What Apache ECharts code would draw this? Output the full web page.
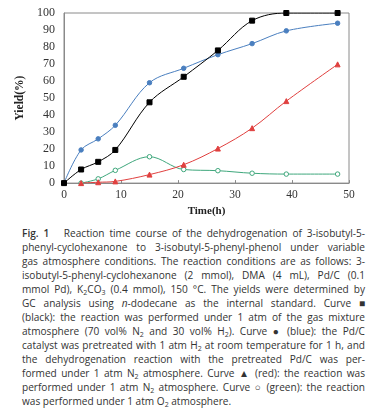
<!DOCTYPE html>
<html><head><meta charset="utf-8">
<script src="https://cdn.jsdelivr.net/npm/echarts@6/dist/echarts.min.js"></script>
<style>
html,body{margin:0;padding:0;background:#fff;width:371px;height:414px;overflow:hidden;}
#chart{position:absolute;left:0;top:0;width:371px;height:222px;}
#cap{position:absolute;left:22px;top:226px;width:343px;font-family:"Open Sans","Noto Sans",sans-serif;font-size:10.1px;line-height:14px;color:#333;}
#cap div{text-align:justify;text-align-last:justify;white-space:nowrap;}
#cap div.last{text-align-last:left;}
#cap sub{font-size:7px;vertical-align:-2px;line-height:0;}
#cap b{font-weight:600;}
</style></head>
<body>
<div id="chart"></div>
<div id="cap">
<div><b>Fig. 1</b>&nbsp;&nbsp; Reaction time course of the dehydrogenation of 3-isobutyl-5-</div>
<div>phenyl-cyclohexanone to 3-isobutyl-5-phenyl-phenol under variable</div>
<div>gas atmosphere conditions. The reaction conditions are as follows: 3-</div>
<div>isobutyl-5-phenyl-cyclohexanone (2 mmol), DMA (4 mL), Pd/C (0.1</div>
<div>mmol Pd), K<sub>2</sub>CO<sub>3</sub> (0.4 mmol), 150 °C. The yields were determined by</div>
<div>GC analysis using <i>n</i>-dodecane as the internal standard. Curve ■</div>
<div>(black): the reaction was performed under 1 atm of the gas mixture</div>
<div>atmosphere (70 vol% N<sub>2</sub> and 30 vol% H<sub>2</sub>). Curve ● (blue): the Pd/C</div>
<div>catalyst was pretreated with 1 atm H<sub>2</sub> at room temperature for 1 h, and</div>
<div>the dehydrogenation reaction with the pretreated Pd/C was per-</div>
<div>formed under 1 atm N<sub>2</sub> atmosphere. Curve ▲ (red): the reaction was</div>
<div>performed under 1 atm N<sub>2</sub> atmosphere. Curve ○ (green): the reaction</div>
<div class="last">was performed under 1 atm O<sub>2</sub> atmosphere.</div>
</div>
<script>
const blackT = [0, 3, 6, 9, 15, 21, 27, 33, 39, 48];
const blackY = [0, 8, 12.5, 19.5, 47.5, 62.5, 78, 95.5, 100, 100];
const blueT = [0, 3, 6, 9, 15, 21, 27, 33, 39, 48];
const blueY = [0, 19.5, 26, 34, 59, 67.5, 75.5, 82, 89.5, 94];
const redT = [3, 6, 9, 15, 21, 27, 33, 39, 48];
const redY = [0, 0.5, 1, 5, 10.8, 20.3, 32.3, 48.2, 69.8];
const greenT = [3, 6, 9, 15, 21, 27, 33, 39, 48];
const greenY = [0, 2.5, 7.5, 15.5, 8, 7.3, 5.8, 5.3, 5.3];
const xTicks = [0, 10, 20, 30, 40, 50];
const yTicks = [0, 10, 20, 30, 40, 50, 60, 70, 80, 90, 100];

function pairs(t, y){ return t.map((v,i)=>[v, y[i]]); }
const font = '"Liberation Serif","DejaVu Serif",serif';
const chart = echarts.init(document.getElementById('chart'), null, {renderer:'canvas'});
function ser(name, t, y, color, symbol, size, fill){
  return {name, type:'line', data:pairs(t,y), smooth:0.35, symbol, symbolSize:size,
    lineStyle:{color, width:1}, itemStyle:{color: fill, borderColor:color, borderWidth:1},
    showSymbol:true, z: 2};
}
chart.setOption({
  animation:false,
  grid:{left:64, right:22, top:13, bottom:35, show:true, borderColor:'#8a8a8a', borderWidth:1},
  xAxis:{type:'value', min:0, max:50, interval:10, name:'Time(h)', nameLocation:'middle', nameGap:21,
    nameTextStyle:{fontFamily:font, fontWeight:'bold', fontSize:11, color:'#222'},
    axisLine:{lineStyle:{color:'#8a8a8a'}}, axisTick:{inside:true, length:3, lineStyle:{color:'#8a8a8a'}},
    axisLabel:{fontFamily:font, fontSize:11.5, color:'#333', margin:6,
      formatter:v=> xTicks.includes(v)? String(v):''},
    splitLine:{show:false}},
  yAxis:{type:'value', min:0, max:100, interval:10, name:'Yield(%)', nameLocation:'middle', nameGap:27,
    nameTextStyle:{fontFamily:font, fontWeight:'bold', fontSize:11.5, color:'#222'},
    axisLine:{lineStyle:{color:'#8a8a8a'}}, axisTick:{show:false},
    axisLabel:{fontFamily:font, fontSize:12, color:'#333', margin:9,
      formatter:v=> yTicks.includes(v)? String(v):''},
    splitLine:{show:false}},
  series:[
    ser('green', greenT, greenY, '#3fa77c', 'circle', 4.5, '#fff'),
    ser('red', redT, redY, '#e0403f', 'triangle', 5, '#e0403f'),
    ser('blue', blueT, blueY, '#4a7fbf', 'circle', 4.5, '#4a7fbf'),
    ser('black', blackT, blackY, '#000000', 'rect', 5, '#000000')
  ]
});
</script>
</body></html>
